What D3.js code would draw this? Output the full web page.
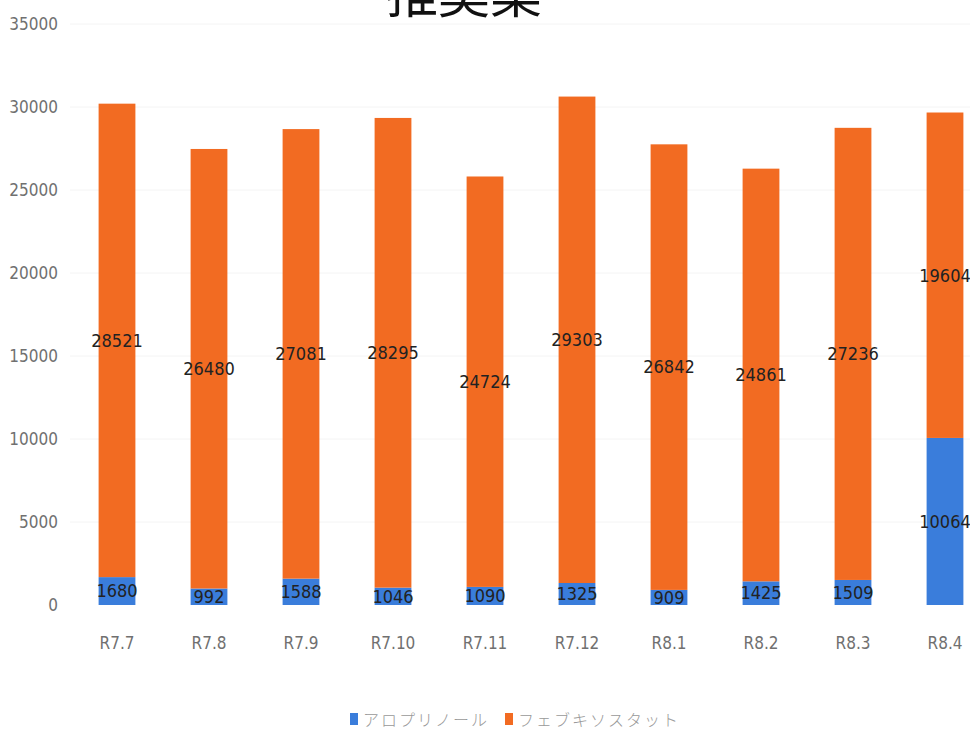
<!DOCTYPE html>
<html><head><meta charset="utf-8">
<script src="https://cdn.jsdelivr.net/npm/d3@7"></script>
<style>body{margin:0;background:#fff}svg{display:block}</style>
</head><body>
<script>
const categories = ["R7.7","R7.8","R7.9","R7.10","R7.11","R7.12","R8.1","R8.2","R8.3","R8.4"];
const allopurinol = [1680,992,1588,1046,1090,1325,909,1425,1509,10064];
const febuxostat = [28521,26480,27081,28295,24724,29303,26842,24861,27236,19604];
const seriesNames = ["アロプリノール","フェブキソスタット"];
const yTicks = [0,5000,10000,15000,20000,25000,30000,35000];
const title = "推奨薬";

const W=970,H=734;
const colors=["#3a7ddb","#f26b22"];
const svg=d3.select("body").append("svg").attr("width",W).attr("height",H);
const x=d3.scaleBand().domain(categories).range([71,991]).paddingInner(0.6).paddingOuter(0.3);
const y=d3.scaleLinear().domain([0,35000]).range([605,24]);
const font='"Liberation Sans Narrow","DejaVu Sans Condensed",sans-serif';

// gridlines
svg.append("g").selectAll("line").data(yTicks.slice(1)).join("line")
 .attr("x1",70).attr("x2",W).attr("y1",d=>y(d)).attr("y2",d=>y(d))
 .attr("stroke","#f4f4f4").attr("stroke-width",1);

// y axis
const ya=svg.append("g").attr("transform","translate(58,0)")
 .call(d3.axisLeft(y).tickValues(yTicks).tickSize(0).tickPadding(0).tickFormat(d3.format("d")));
ya.select(".domain").remove();
ya.selectAll("text").attr("font-family",font).attr("font-size",17).attr("fill","#707070");

// x axis
const xa=svg.append("g").attr("transform","translate(0,637)")
 .call(d3.axisBottom(x).tickSize(0).tickPadding(0));
xa.select(".domain").remove();
xa.selectAll("text").attr("font-family",font).attr("font-size",17).attr("fill","#707070");

// stacked data
const rows=categories.map((c,i)=>({cat:c,a:allopurinol[i],f:febuxostat[i]}));
const stack=d3.stack().keys(["a","f"])(rows);
const g=svg.append("g");
stack.forEach((layer,li)=>{
  g.append("g").selectAll("rect").data(layer).join("rect")
   .attr("x",d=>x(d.data.cat)).attr("width",x.bandwidth())
   .attr("y",d=>y(d[1])).attr("height",d=>y(d[0])-y(d[1]))
   .attr("fill",colors[li]);
});
stack.forEach((layer,li)=>{
  g.append("g").selectAll("text").data(layer).join("text")
   .attr("x",d=>x(d.data.cat)+x.bandwidth()/2)
   .attr("y",d=>(y(d[0])+y(d[1]))/2)
   .attr("dy","0.35em").attr("text-anchor","middle")
   .attr("font-family",font).attr("font-size",18).attr("fill","#222")
   .text(d=>d[1]-d[0]);
});

// title (partly above the top edge, as in the reference)
svg.append("text").attr("x",464).attr("y",13).attr("text-anchor","middle")
 .attr("font-family",'"Noto Sans CJK JP",sans-serif').attr("font-size",52).attr("fill","#111")
 .text(title);

// legend
const leg=svg.append("g");
const lx=[350,505];
seriesNames.forEach((n,i)=>{
  leg.append("rect").attr("x",lx[i]).attr("y",713).attr("width",8).attr("height",12).attr("fill",colors[i]);
  leg.append("text").attr("x",lx[i]+13).attr("y",720).attr("dy","0.35em")
   .attr("font-family",'"Noto Sans CJK JP",sans-serif').attr("font-size",16).attr("fill","#999")
   .attr("font-weight",300).attr("letter-spacing",2).text(n);
});
</script>
</body></html>
